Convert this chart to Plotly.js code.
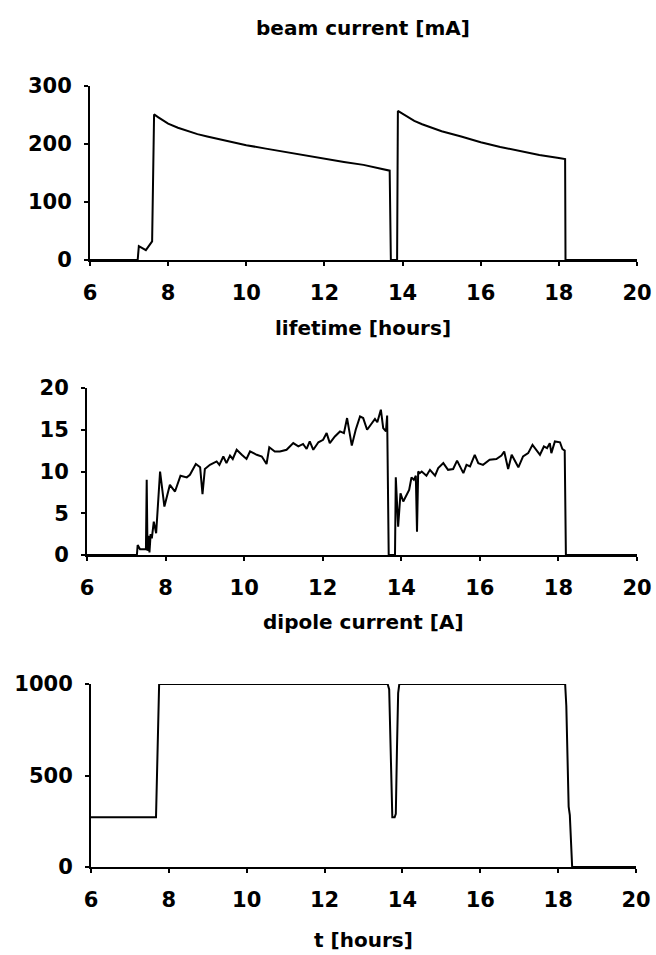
<!DOCTYPE html>
<html>
<head>
<meta charset="utf-8">
<script src="https://cdn.plot.ly/plotly-3.0.1.min.js"></script>
<style>
html,body{margin:0;padding:0;background:#fff;}
#chart{width:656px;height:955px;}
</style>
</head>
<body>
<div id="chart"></div>
<script>
// ---- data ----
const xTicks = [6, 8, 10, 12, 14, 16, 18, 20];

const beamTime = [6, 7.22, 7.25, 7.3, 7.43, 7.59, 7.64, 7.75, 7.9, 8.0, 8.25, 8.5, 8.75, 9, 9.5, 10, 10.5, 11, 11.5, 12, 12.5, 13, 13.5, 13.67, 13.7, 13.86, 13.88, 14, 14.15, 14.3, 14.5, 14.75, 15, 15.5, 16, 16.5, 17, 17.5, 18, 18.16, 18.17, 20];
const beamCurrent = [0, 0, 24, 22, 17, 32, 251, 246, 239, 235, 228, 222, 217, 213, 205, 198, 192, 186, 180, 175, 169, 164, 157, 154, 0, 0, 257, 252, 246, 240, 234, 228, 222, 213, 203, 195, 188, 181, 176, 174, 0, 0];
const beamTicks = [0, 100, 200, 300];

const lifetimeTime = [6, 7.27, 7.29, 7.35, 7.5, 7.52, 7.54, 7.57, 7.59, 7.62, 7.65, 7.7, 7.76, 7.79, 7.86, 7.97, 8.03, 8.11, 8.24, 8.38, 8.54, 8.62, 8.77, 8.88, 8.94, 9.0, 9.13, 9.3, 9.37, 9.47, 9.55, 9.64, 9.71, 9.81, 9.94, 10.06, 10.15, 10.32, 10.45, 10.57, 10.64, 10.78, 10.91, 11.08, 11.25, 11.38, 11.5, 11.59, 11.67, 11.76, 11.89, 12.01, 12.1, 12.18, 12.31, 12.44, 12.54, 12.62, 12.74, 12.84, 12.95, 13.03, 13.13, 13.24, 13.33, 13.39, 13.48, 13.54, 13.61, 13.64, 13.68, 13.84, 13.86, 13.92, 13.98, 14.05, 14.13, 14.2, 14.26, 14.32, 14.37, 14.4, 14.43, 14.47, 14.52, 14.64, 14.73, 14.86, 14.94, 15.07, 15.19, 15.32, 15.42, 15.58, 15.66, 15.75, 15.87, 15.96, 16.08, 16.25, 16.42, 16.55, 16.62, 16.72, 16.81, 16.98, 17.1, 17.23, 17.34, 17.44, 17.53, 17.63, 17.71, 17.78, 17.82, 17.91, 18.04, 18.1, 18.16, 18.19, 20];
const lifetimeHours = [0, 0, 1.2, 0.7, 0.7, 9.0, 0.5, 2.3, 0.3, 2.5, 2.0, 4.0, 2.6, 4.5, 10.0, 5.8, 7.0, 8.4, 7.6, 9.5, 9.3, 9.6, 10.9, 10.5, 7.3, 10.3, 10.8, 11.2, 10.8, 11.8, 11.0, 11.9, 11.5, 12.6, 12.0, 11.5, 12.4, 12.0, 11.8, 10.9, 12.9, 12.4, 12.4, 12.6, 13.4, 13.0, 13.3, 12.7, 13.6, 12.6, 13.5, 13.8, 14.6, 13.4, 14.2, 14.8, 14.6, 16.4, 13.1, 15.0, 16.6, 16.4, 15.0, 15.8, 16.3, 15.9, 17.4, 15.2, 14.8, 16.7, 0, 0, 9.3, 3.4, 7.4, 6.4, 7.2, 7.8, 9.3, 9.0, 9.5, 2.8, 10.0, 9.8, 10.0, 9.5, 10.2, 9.5, 10.4, 11.0, 10.2, 10.3, 11.3, 9.8, 10.8, 10.6, 12.0, 11.0, 10.8, 11.4, 11.5, 11.9, 12.4, 10.3, 12.0, 10.5, 11.8, 12.2, 13.2, 12.5, 12.0, 13.0, 12.8, 13.4, 12.2, 13.6, 13.5, 12.7, 12.5, 0, 0];
const lifetimeTicks = [0, 5, 10, 15, 20];

const dipoleTime = [6, 7.67, 7.75, 13.62, 13.66, 13.69, 13.72, 13.74, 13.8, 13.83, 13.86, 13.89, 13.92, 18.18, 18.21, 18.27, 18.3, 18.36, 20];
const dipoleCurrent = [272, 272, 1000, 1000, 970, 700, 300, 272, 272, 290, 650, 950, 1000, 1000, 880, 330, 283, 0, 0];
const dipoleTicks = [0, 500, 1000];

const panelTitles = ['beam current [mA]', 'lifetime [hours]', 'dipole current [A]', 't [hours]'];

// ---- figure ----
const W = 656, H = 955;
const tickFont = {family: 'DejaVu Sans', size: 21, color: '#000', weight: 'bold'};
const titleFont = {family: 'DejaVu Sans', size: 20, color: '#000', weight: 'bold'};
const lineStyle = {color: '#000', width: 2};

function xAxis(l, r, anchor) {
  return {
    domain: [l / W, r / W], anchor: anchor, range: [6, 20],
    tickvals: xTicks, ticktext: xTicks.map(String),
    showline: true, linecolor: '#000', linewidth: 2,
    ticks: 'outside', ticklen: 4, tickwidth: 2, tickcolor: '#000',
    showgrid: false, zeroline: false, tickfont: tickFont,
    ticklabelstandoff: 9, fixedrange: true
  };
}
function yAxis(bottom, top, anchor, maxv, ticks) {
  return {
    domain: [1 - bottom / H, 1 - top / H], anchor: anchor, range: [0, maxv],
    tickvals: ticks, ticktext: ticks.map(String),
    showline: true, linecolor: '#000', linewidth: 2,
    ticks: 'outside', ticklen: 4, tickwidth: 2, tickcolor: '#000',
    showgrid: false, zeroline: false, tickfont: tickFont,
    ticklabelstandoff: 8, fixedrange: true
  };
}

const traces = [
  {x: beamTime, y: beamCurrent, xaxis: 'x', yaxis: 'y', mode: 'lines', line: lineStyle, hoverinfo: 'skip'},
  {x: lifetimeTime, y: lifetimeHours, xaxis: 'x2', yaxis: 'y2', mode: 'lines', line: lineStyle, hoverinfo: 'skip'},
  {x: dipoleTime, y: dipoleCurrent, xaxis: 'x3', yaxis: 'y3', mode: 'lines', line: lineStyle, hoverinfo: 'skip'}
];

const titleY = [28, 328, 622, 940];
const layout = {
  width: W, height: H,
  margin: {l: 0, r: 0, t: 0, b: 0},
  paper_bgcolor: '#fff', plot_bgcolor: '#fff',
  showlegend: false,
  xaxis: xAxis(90, 637, 'y'),
  yaxis: yAxis(260, 86, 'x', 300, beamTicks),
  xaxis2: xAxis(87, 637, 'y2'),
  yaxis2: yAxis(555, 388, 'x2', 20, lifetimeTicks),
  xaxis3: xAxis(91, 636, 'y3'),
  yaxis3: yAxis(867, 684, 'x3', 1000, dipoleTicks),
  annotations: panelTitles.map((t, i) => ({
    text: t, xref: 'paper', yref: 'paper', x: 363 / W, y: 1 - titleY[i] / H,
    xanchor: 'center', yanchor: 'middle', showarrow: false, font: titleFont
  }))
};

Plotly.newPlot('chart', traces, layout, {displayModeBar: false, staticPlot: true});
</script>
</body>
</html>
